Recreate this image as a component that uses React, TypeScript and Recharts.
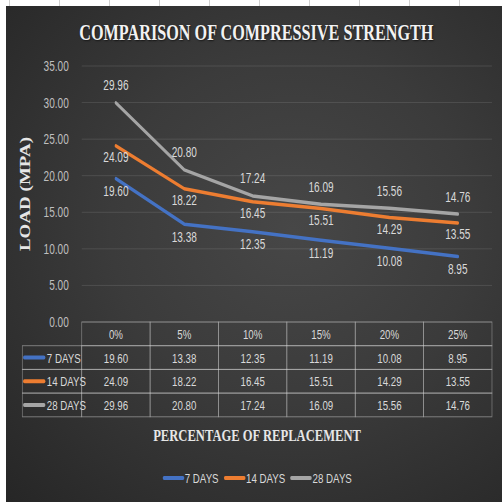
import { CartesianGrid, LabelList, Legend, Line, LineChart, XAxis, YAxis } from 'recharts';

const replacement = ['0%', '5%', '10%', '15%', '20%', '25%'];
const days7 = [19.6, 13.38, 12.35, 11.19, 10.08, 8.95];
const days14 = [24.09, 18.22, 16.45, 15.51, 14.29, 13.55];
const days28 = [29.96, 20.8, 17.24, 16.09, 15.56, 14.76];
const loadTicks = [0, 5, 10, 15, 20, 25, 30, 35];

const series = [
  { key: 'd7', name: '7 DAYS', color: '#4472C4', values: days7, labelDy: 13 },
  { key: 'd14', name: '14 DAYS', color: '#ED7D31', values: days14, labelDy: 12 },
  { key: 'd28', name: '28 DAYS', color: '#A5A5A5', values: days28, labelDy: -17 },
];

const data = replacement.map((pct, i) => ({
  pct,
  d7: days7[i],
  d14: days14[i],
  d28: days28[i],
}));

// the chart is laid out wide and squeezed horizontally, so text comes out tall and narrow
const SQUEEZE = 0.72;
const WIDTH = 697;
const HEIGHT = 502;
const MARGIN = { top: 66, right: 13.7, left: 0, bottom: 14 };
const Y_AXIS_W = 113.5;
const COL_W = (WIDTH - Y_AXIS_W - MARGIN.right) / replacement.length;
const TABLE_TOP = 322;
const ROW_H = 23.7;
const ROW_LABEL_LEFT = 31;

const SERIF = "'Liberation Serif', 'Times New Roman', serif";
const NARROW = "'Liberation Sans Narrow', 'Arial Narrow', 'Liberation Sans', sans-serif";
const TEXT = '#d9d9d9';
const BORDER = 'rgba(217,217,217,0.45)';

function TableColumn(props: any) {
  const { x, index, payload } = props;
  const left = x - COL_W / 2;
  const cells = [payload.value, ...series.map((s) => s.values[index].toFixed(2))];
  return (
    <g>
      {cells.map((text, r) => (
        <g key={r}>
          <rect x={left} y={TABLE_TOP + r * ROW_H} width={COL_W} height={ROW_H} fill="none" stroke={BORDER} />
          <text
            x={x}
            y={TABLE_TOP + (r + 0.5) * ROW_H}
            textAnchor="middle"
            dominantBaseline="central"
            fill={TEXT}
            fontFamily={NARROW}
            fontSize={13.5}
          >
            {text}
          </text>
        </g>
      ))}
      {index === 0 &&
        series.map((s, r) => {
          const top = TABLE_TOP + (r + 1) * ROW_H;
          return (
            <g key={s.key}>
              <rect x={ROW_LABEL_LEFT} y={top} width={left - ROW_LABEL_LEFT} height={ROW_H} fill="none" stroke={BORDER} />
              <line
                x1={ROW_LABEL_LEFT + 3}
                x2={ROW_LABEL_LEFT + 30}
                y1={top + ROW_H / 2}
                y2={top + ROW_H / 2}
                stroke={s.color}
                strokeWidth={4}
                strokeLinecap="round"
              />
              <text
                x={ROW_LABEL_LEFT + 34}
                y={top + ROW_H / 2}
                dominantBaseline="central"
                fill={TEXT}
                fontFamily={NARROW}
                fontSize={13.5}
              >
                {s.name}
              </text>
            </g>
          );
        })}
    </g>
  );
}

// legend keeps the series order (7, 14, 28 days)
function SeriesLegend() {
  return (
    <div
      style={{
        display: 'flex',
        justifyContent: 'center',
        alignItems: 'center',
        columnGap: 7,
        height: 20,
        paddingLeft: 31,
        fontFamily: NARROW,
        fontSize: 13.5,
        color: TEXT,
      }}
    >
      {series.map((s) => (
        <div key={s.key} style={{ display: 'flex', alignItems: 'center' }}>
          <span style={{ width: 30, height: 4, borderRadius: 2, background: s.color, marginRight: 1 }} />
          <span>{s.name}</span>
        </div>
      ))}
    </div>
  );
}

export default function App() {
  return (
    <div
      style={{
        position: 'fixed',
        left: 0,
        top: 0,
        width: 502,
        height: 502,
        overflow: 'hidden',
        background: '#ffffff',
        backgroundImage: 'repeating-linear-gradient(90deg, transparent 0 9px, #d0d0d0 9px 10px, transparent 10px 50px)',
      }}
    >
      <div
        style={{
          position: 'absolute',
          left: 6,
          top: 6,
          width: 496,
          height: 496,
          background: 'radial-gradient(ellipse at 58% 45%, #474747 0%, #3b3b3b 45%, #262626 100%)',
        }}
      />
      <div
        style={{
          position: 'absolute',
          left: 0,
          top: 0,
          width: WIDTH,
          height: HEIGHT,
          transform: `scaleX(${SQUEEZE})`,
          transformOrigin: '0 0',
        }}
      >
        <div
          style={{
            position: 'absolute',
            left: 15,
            right: 0,
            top: 21.6,
            lineHeight: '22px',
            textAlign: 'center',
            fontFamily: SERIF,
            fontWeight: 'bold',
            fontSize: 22.5,
            color: '#f2f2f2',
            textShadow: '1px 1px 2px rgba(0,0,0,0.6)',
          }}
        >
          COMPARISON OF COMPRESSIVE STRENGTH
        </div>
        <LineChart width={WIDTH} height={HEIGHT} data={data} margin={MARGIN}>
          <CartesianGrid vertical={false} stroke="rgba(255,255,255,0.13)" />
          <XAxis
            dataKey="pct"
            interval={0}
            height={146}
            axisLine={false}
            tickLine={false}
            padding={{ left: COL_W / 2, right: COL_W / 2 }}
            tick={(props: any) => <TableColumn {...props} />}
            label={{
              content: ({ viewBox }: any) => (
                <text
                  x={357}
                  y={viewBox.y + 119}
                  textAnchor="middle"
                  fill="#e6e6e6"
                  fontFamily={SERIF}
                  fontWeight="bold"
                  fontSize={17.5}
                >
                  PERCENTAGE  OF REPLACEMENT
                </text>
              ),
            }}
          />
          <YAxis
            width={Y_AXIS_W}
            domain={[0, 35]}
            ticks={loadTicks}
            axisLine={false}
            tickLine={false}
            tickMargin={12}
            tickFormatter={(v: number) => v.toFixed(2)}
            tick={{ fill: '#bfbfbf', fontFamily: NARROW, fontSize: 14 }}
            label={{
              content: ({ viewBox }: any) => (
                <text
                  transform={`translate(${viewBox.x + 36}, ${viewBox.y + viewBox.height / 2}) rotate(-90)`}
                  textAnchor="middle"
                  dominantBaseline="central"
                  fill="#e6e6e6"
                  fontFamily={SERIF}
                  fontWeight="bold"
                  fontSize={19}
                >
                  LOAD (MPA)
                </text>
              ),
            }}
          />
          <Legend verticalAlign="bottom" content={<SeriesLegend />} />
          {series.map((s) => (
            <Line
              key={s.key}
              type="linear"
              dataKey={s.key}
              name={s.name}
              stroke={s.color}
              strokeWidth={3.5}
              strokeLinecap="round"
              strokeLinejoin="round"
              dot={false}
              activeDot={false}
              isAnimationActive={false}
            >
              <LabelList
                dataKey={s.key}
                content={({ x, y, value }: any) => (
                  <text
                    x={x}
                    y={y + s.labelDy}
                    textAnchor="middle"
                    dominantBaseline="central"
                    fill={TEXT}
                    fontFamily={NARROW}
                    fontSize={14}
                  >
                    {Number(value).toFixed(2)}
                  </text>
                )}
              />
            </Line>
          ))}
        </LineChart>
      </div>
    </div>
  );
}
